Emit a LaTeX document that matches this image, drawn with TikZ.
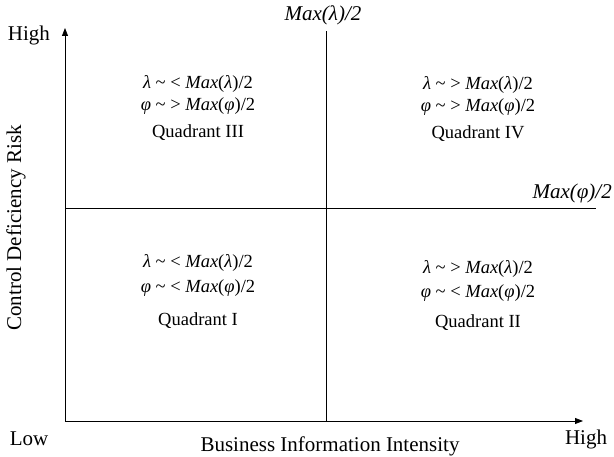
\documentclass[tikz,border=0pt]{standalone}
\usepackage{fontspec}
\setmainfont{Liberation Serif}
\usetikzlibrary{arrows.meta}
\newcommand{\cond}[3]{\textit{#1} \textasciitilde{} #2 \textit{Max}(\textit{#3})/2}

\begin{document}
\begin{tikzpicture}[x=1pt,y=-1pt, every node/.style={font=\fontsize{21}{25}\selectfont,inner sep=0pt,align=center}]
\tikzset{axis/.style={line width=0.8pt,-{Triangle[length=8pt,width=6pt]}},
  split/.style={line width=0.7pt},
  quad/.style={font=\fontsize{18.5}{22}\selectfont}}
\useasboundingbox (0,0) rectangle (614,457);
% axes and the two halving lines
\coordinate (origin) at (65,421);
\coordinate (ytip) at (65,28);
\coordinate (xtip) at (583,421);
\coordinate (vtop) at (326,31);
\coordinate (vbot) at (326,421);
\coordinate (hleft) at (65,208);
\coordinate (hright) at (596,208);
\draw[axis] (origin)--(ytip);
\draw[axis] (origin)--(xtip);
\draw[split] (vbot)--(vtop);
\draw[split] (hleft)--(hright);
% axis labels
\node (yhigh) at (29,35) {High};
\node (xlow) at (29,439) {Low};
\node (xhigh) at (586,439) {High};
\node (xlabel) at (330,446) {Business Information Intensity};
\node[rotate=90] (ylabel) at (16,228) {Control Deficiency Risk};
\node (lhalf) at (323,15) {\textit{Max(λ)/2}};
\node[anchor=east] (phalf) at (612,193) {\textit{Max(φ)/2}};
% quadrants
\node[quad] (q3) at (198,108) {\cond{λ}{<}{λ}\\[0pt]\cond{φ}{>}{φ}\\[5pt]Quadrant III};
\node[quad] (q4) at (478,109) {\cond{λ}{>}{λ}\\[0pt]\cond{φ}{>}{φ}\\[5pt]Quadrant IV};
\node[quad] (q1) at (198,291) {\cond{λ}{<}{λ}\\[3pt]\cond{φ}{<}{φ}\\[11pt]Quadrant I};
\node[quad] (q2) at (478,295) {\cond{λ}{>}{λ}\\[2pt]\cond{φ}{<}{φ}\\[8pt]Quadrant II};
\end{tikzpicture}
\end{document}
